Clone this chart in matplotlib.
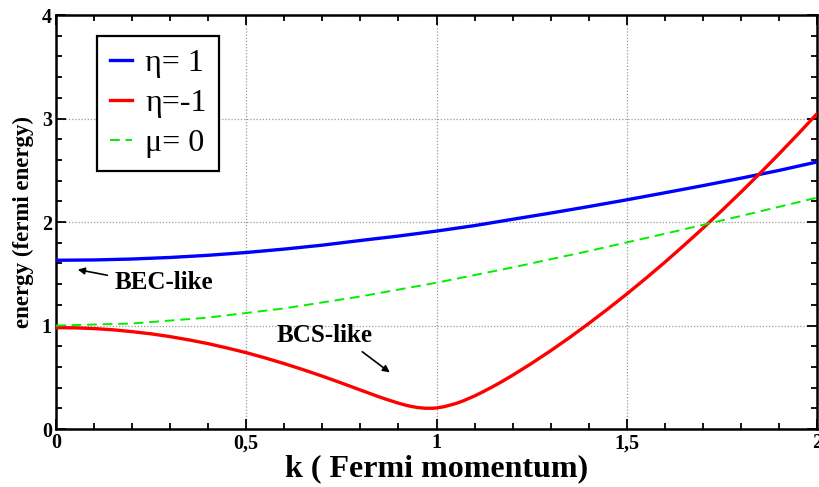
import matplotlib
matplotlib.use("Agg")
import matplotlib.pyplot as plt

# quasiparticle energies (in units of the Fermi energy) vs k (in units of k_F)
k_bec = [0.0, 0.1, 0.2, 0.3, 0.4, 0.5, 0.6, 0.7, 0.8, 0.9, 1.0,
         1.1, 1.2, 1.3, 1.4, 1.5, 1.6, 1.7, 1.8, 1.9, 2.0]
e_bec = [1.631, 1.634, 1.643, 1.658, 1.679, 1.706, 1.739, 1.777, 1.822, 1.865, 1.913,
         1.966, 2.027, 2.087, 2.150, 2.215, 2.283, 2.352, 2.424, 2.499, 2.581]

k_bcs = [0.0, 0.05, 0.1, 0.15, 0.2, 0.25, 0.3, 0.35, 0.4, 0.45, 0.5, 0.55, 0.6,
         0.65, 0.7, 0.75, 0.8, 0.85, 0.87, 0.9, 0.92, 0.93, 0.95, 0.97, 0.98, 0.99,
         1.0, 1.02, 1.05, 1.07, 1.1, 1.12, 1.15, 1.17, 1.2, 1.25, 1.3, 1.35, 1.4,
         1.45, 1.5, 1.55, 1.6, 1.65, 1.7, 1.75, 1.8, 1.85, 1.9, 1.95, 2.0]
e_bcs = [0.980, 0.978, 0.971, 0.959, 0.941, 0.920, 0.893, 0.861, 0.825, 0.783,
         0.738, 0.687, 0.632, 0.573, 0.511, 0.445, 0.377, 0.310, 0.285, 0.250,
         0.230, 0.221, 0.208, 0.201, 0.201, 0.201, 0.204, 0.216, 0.246, 0.272,
         0.320, 0.356, 0.414, 0.455, 0.520, 0.635, 0.757, 0.885, 1.020, 1.160,
         1.305, 1.456, 1.612, 1.774, 1.940, 2.112, 2.289, 2.471, 2.658, 2.850, 3.047]

k_mu0 = [0.0, 0.2, 0.4, 0.6, 0.8, 1.0, 1.2, 1.4, 1.6, 1.8, 2.0]
e_mu0 = [1.000, 1.020, 1.077, 1.166, 1.281, 1.414, 1.562, 1.720, 1.887, 2.059, 2.236]

x_ticks = [0, 0.5, 1, 1.5, 2]
x_tick_labels = ["0", "0,5", "1", "1,5", "2"]
y_ticks = [0, 1, 2, 3, 4]

plt.rcParams["font.family"] = ["Liberation Serif", "DejaVu Serif"]

fig = plt.figure(figsize=(8.19, 4.87), dpi=100)
ax = fig.add_axes([0.0684, 0.119, 0.9292, 0.850])

ax.plot(k_bec, e_bec, color="#0000ff", lw=2.4, label="η= 1", zorder=3)
ax.plot(k_bcs, e_bcs, color="#ff0000", lw=2.4, label="η=-1", zorder=3)
ax.plot(k_mu0, e_mu0, color="#00ee00", lw=1.4, ls=(0, (5, 3)), label="μ= 0", zorder=3)

ax.set_xlim(0, 2)
ax.set_ylim(0, 4)
ax.set_xticks(x_ticks)
ax.set_xticklabels(x_tick_labels)
ax.set_yticks(y_ticks)
ax.set_xticks([i / 10 for i in range(21)], minor=True)
ax.set_yticks([i / 5 for i in range(21)], minor=True)

ax.tick_params(which="both", direction="in", top=True, right=True, width=1.3)
ax.tick_params(which="major", length=7, labelsize=14.5, pad=3)
ax.tick_params(which="minor", length=4)
for lab in ax.get_xticklabels() + ax.get_yticklabels():
    lab.set_fontweight("bold")
for s in ax.spines.values():
    s.set_linewidth(1.8)

ax.grid(True, which="major", color="#999999", ls=(0, (1, 1.5)), lw=0.9)

ax.set_xlabel("k ( Fermi momentum)", fontsize=23, fontweight="bold", labelpad=1)
fig.text(23 / 819, 1 - 222 / 487, "energy (fermi energy)", rotation=90,
         fontsize=16.5, fontweight="bold", ha="center", va="center")

leg = ax.legend(loc="upper left", bbox_to_anchor=(0.054, 0.949), borderaxespad=0,
                prop={"family": "Liberation Serif", "size": 23},
                handlelength=0.7, handletextpad=0.4, labelspacing=0.33,
                borderpad=0.4, fancybox=False, framealpha=1)
leg.get_frame().set_edgecolor("black")
leg.get_frame().set_linewidth(1.6)

ax.annotate("", xy=(0.05, 1.546), xytext=(0.142, 1.481),
            arrowprops=dict(arrowstyle="-|>", color="black", lw=1.2, mutation_scale=10))
ax.text(0.284, 1.415, "BEC-like", fontsize=18, fontweight="bold", ha="center", va="center")

ax.annotate("", xy=(0.883, 0.531), xytext=(0.799, 0.763),
            arrowprops=dict(arrowstyle="-|>", color="black", lw=1.2, mutation_scale=10))
ax.text(0.707, 0.908, "BCS-like", fontsize=18, fontweight="bold", ha="center", va="center")

fig.savefig("out.png", dpi=100)
